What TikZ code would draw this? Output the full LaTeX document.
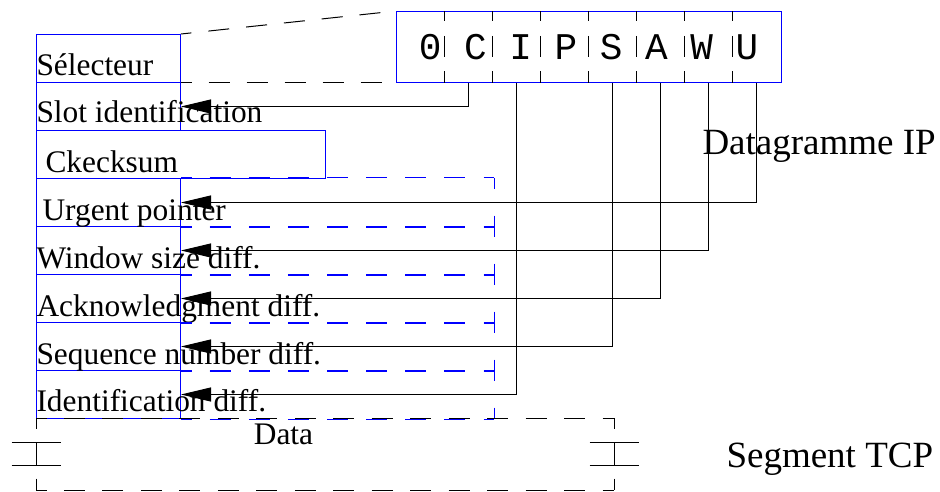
\documentclass[tikz,border=0pt]{standalone}
\usepackage{fontspec}
\setmainfont{Liberation Serif}
\newfontfamily\flagfont{Liberation Mono}
\usetikzlibrary{arrows.meta}
\tikzset{
  cell/.style={shape=rectangle, draw=blue, minimum height=48pt, inner sep=0pt, anchor=north west},
  lbl/.style={anchor=base west, inner sep=0pt, font=\fontsize{31.4}{36}\selectfont},
  big/.style={anchor=base west, inner sep=0pt, font=\fontsize{37}{42}\selectfont},
  sdash/.style={dash pattern=on 21pt off #1, dash phase=10.5pt},
  flagarrow/.style={-{Triangle[length=30pt,width=14pt]}},
}

\begin{document}
\begin{tikzpicture}[x=1pt, y=-1pt, line width=1pt]
    \useasboundingbox (0,0) rectangle (940,492);
    \node[cell, minimum width=144pt] (sel) at (36,34) {};
    \node[cell, minimum width=144pt] (slot) at (36,82) {};
    \node[cell, minimum width=289pt] (cks) at (36,130) {};
    \node[cell, minimum width=144pt] (urg) at (36,178) {};
    \node[cell, minimum width=144pt] (win) at (36,226) {};
    \node[cell, minimum width=144pt] (ack) at (36,274) {};
    \node[cell, minimum width=144pt] (seq) at (36,322) {};
    \node[cell, minimum width=144pt] (idt) at (36,370) {};

    \node[lbl] (selText) at (36,76) {Sélecteur};
    \node[lbl] (slotText) at (36,123) {Slot identification};
    \node[lbl] (cksText) at (45,172) {Ckecksum};
    \node[lbl] (urgText) at (42,220) {Urgent pointer};
    \node[lbl] (winText) at (36,268) {Window size diff.};
    \node[lbl] (ackText) at (36,316) {Acknowledgment diff.};
    \node[lbl] (seqText) at (36,364) {Sequence number diff.};
    \node[lbl] (idtText) at (36,411) {Identification diff.};

    \foreach \row in {urg,win,ack,seq,idt} {
        \draw[blue, sdash=18.125pt] (\row.north east) -- ([xshift=313]\row.north east);
        \draw[blue, sdash=18.125pt] (\row.south east) -- ([xshift=313]\row.south east);
        \draw[blue, sdash=27pt] ([xshift=313]\row.north east) -- ([xshift=313]\row.south east);
    }

    \node[shape=rectangle, draw=blue, minimum width=385pt, minimum height=71pt, inner sep=0pt, anchor=north west] (flags) at (396,11) {};
    \node[anchor=base, inner sep=0pt, font=\flagfont\fontsize{37.7}{42}\selectfont] (flagText) at (588.5,60) {0 C I P S A W U};
    \foreach \k in {1,...,7}
        \draw[sdash=14.5pt] ([xshift=48.125*\k]flags.north west) -- ([xshift=48.125*\k]flags.south west);
    \foreach \f/\k in {C/1.5, I/2.5, S/4.5, A/5.5, W/6.5, U/7.5}
        \coordinate (f\f) at ([xshift=48.125*\k]flags.south west);

    \draw[sdash=17pt] (sel.north east) -- (flags.north west);
    \draw[sdash=17pt] (sel.south east) -- (flags.south west);

    \node[shape=rectangle, minimum width=577pt, minimum height=71pt, inner sep=0pt, anchor=north west] (data) at (36,418) {};
    \node[lbl, anchor=base] (dataText) at (283.5,444) {Data};
    \draw[sdash=17.467pt] (data.north west) -- (data.north east);
    \draw[sdash=17.467pt] (data.south west) -- (data.south east);
    \draw[sdash=14.5pt] (data.north west) -- (data.south west);
    \draw[sdash=14.5pt] (data.north east) -- (data.south east);
    \foreach \s in {west,east}
        \draw (data.\s) ++(-24.5,-11.5) -- ++(49,0) (data.\s) ++(0,-11.5) -- ++(0,23) (data.\s) ++(-24.5,11.5) -- ++(49,0);

    \foreach \f/\row in {C/slot, U/urg, W/win, A/ack, S/seq, I/idt}
        \draw[flagarrow] (f\f) |- (\row.east);

    \node[big] (ipText) at (702,154) {Datagramme IP};
    \node[big] (tcpText) at (726,467) {Segment TCP};
\end{tikzpicture}
\end{document}
